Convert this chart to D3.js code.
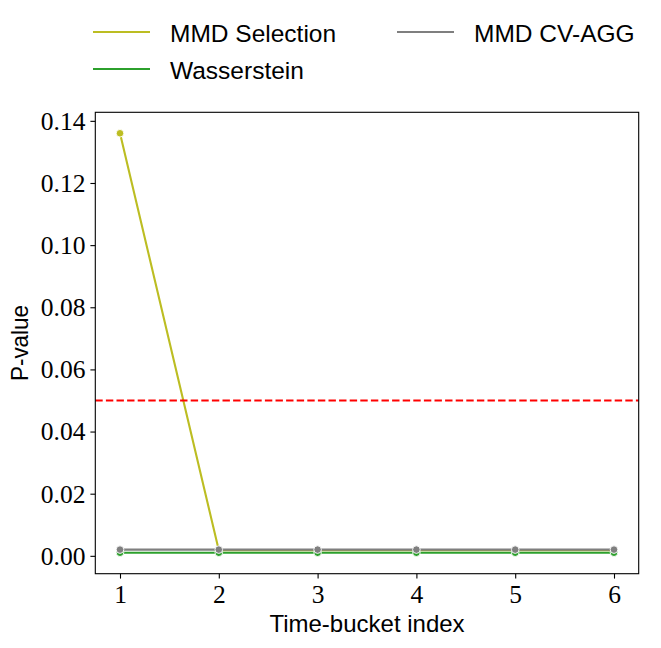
<!DOCTYPE html>
<html>
<head>
<meta charset="utf-8">
<script src="https://cdn.jsdelivr.net/npm/d3@7"></script>
<style>
html,body{margin:0;padding:0;background:#fff;}
svg{display:block;}
</style>
</head>
<body>
<svg id="chart" width="661" height="648"></svg>
<script>
const buckets = [1, 2, 3, 4, 5, 6];
const mmdSelection = [0.136, 0.0018, 0.0018, 0.0018, 0.0018, 0.0018];
const wasserstein = [0.001, 0.001, 0.001, 0.001, 0.001, 0.001];
const mmdCvAgg = [0.002, 0.002, 0.002, 0.002, 0.002, 0.002];
const yTicks = [0.00, 0.02, 0.04, 0.06, 0.08, 0.10, 0.12, 0.14];
const threshold = 0.05;
const seriesNames = ["MMD Selection", "Wasserstein", "MMD CV-AGG"];
const seriesColors = ["#bcbd22", "#2ca02c", "#7f7f7f"];

const series = [mmdSelection, wasserstein, mmdCvAgg].map((vals, i) => ({
  name: seriesNames[i], color: seriesColors[i],
  points: buckets.map((b, j) => ({x: b, y: vals[j]}))
}));

const svg = d3.select("#chart");
const L = 95.3, R = 638.7, T = 112.3, B = 573.7;

const xmin = d3.min(buckets), xmax = d3.max(buckets);
const xm = (xmax - xmin) * 0.05;
const allY = [].concat(mmdSelection, wasserstein, mmdCvAgg);
const ymin = d3.min(allY), ymax = d3.max(allY);
const ym = (ymax - ymin) * 0.05;

const x = d3.scaleLinear().domain([xmin - xm, xmax + xm]).range([L, R]);
const y = d3.scaleLinear().domain([ymin - ym, ymax + ym]).range([B, T]);

const g = svg.append("g");

const line = d3.line().x(d => x(d.x)).y(d => y(d.y));
series.forEach(s => {
  g.append("path").datum(s.points)
    .attr("d", line).attr("fill", "none")
    .attr("stroke", s.color).attr("stroke-width", 2.1);
  g.selectAll(null).data(s.points).enter().append("circle")
    .attr("cx", d => x(d.x)).attr("cy", d => y(d.y)).attr("r", 3.8)
    .attr("fill", s.color).attr("stroke", "#fff").attr("stroke-width", 0.9);
});

g.append("line")
  .attr("x1", L).attr("x2", R)
  .attr("y1", y(threshold)).attr("y2", y(threshold))
  .attr("stroke", "#ff0000").attr("stroke-width", 2)
  .attr("stroke-dasharray", "7.4,3.2");

// axes
const xAxis = d3.axisBottom(x).tickValues(buckets).tickFormat(d3.format("d")).tickSize(4.9).tickPadding(5);
const yAxis = d3.axisLeft(y).tickValues(yTicks).tickFormat(d3.format(".2f")).tickSize(4.9).tickPadding(5);

const gx = svg.append("g").attr("transform", `translate(0,${B})`).call(xAxis);
const gy = svg.append("g").attr("transform", `translate(${L},0)`).call(yAxis);
[gx, gy].forEach(a => {
  a.select(".domain").remove();
  a.selectAll(".tick line").attr("stroke", "#000").attr("stroke-width", 1.1);
  a.selectAll(".tick text").attr("fill", "#000")
    .style("font-family", "'Liberation Serif', 'DejaVu Serif', serif")
    .style("font-size", "25.5px");
});
gx.selectAll(".tick text").attr("dy", null).attr("y", 29);
gy.selectAll(".tick text").attr("dy", "0.33em");

svg.append("rect").attr("x", L).attr("y", T).attr("width", R - L).attr("height", B - T)
  .attr("fill", "none").attr("stroke", "#000").attr("stroke-width", 1.1);

const sans = "'Liberation Sans', Arial, sans-serif";
svg.append("text").attr("x", (L + R) / 2).attr("y", 632)
  .attr("text-anchor", "middle").style("font-family", sans).style("font-size", "24px")
  .text("Time-bucket index");
svg.append("text").attr("transform", `translate(28,${(T + B) / 2}) rotate(-90)`)
  .attr("text-anchor", "middle").style("font-family", sans).style("font-size", "24px")
  .attr("textLength", 76).attr("lengthAdjust", "spacingAndGlyphs")
  .text("P-value");

// legend
const legPos = [[93, 32], [93, 69], [397, 32]];
series.forEach((s, i) => {
  const [lx, ly] = legPos[i];
  svg.append("line").attr("x1", lx).attr("x2", lx + 57).attr("y1", ly).attr("y2", ly)
    .attr("stroke", s.color).attr("stroke-width", 2.1);
  svg.append("text").attr("x", lx + 77).attr("y", ly + 9.5)
    .style("font-family", sans).style("font-size", "24.5px").attr("fill", "#000")
    .text(s.name);
});
</script>
</body>
</html>
